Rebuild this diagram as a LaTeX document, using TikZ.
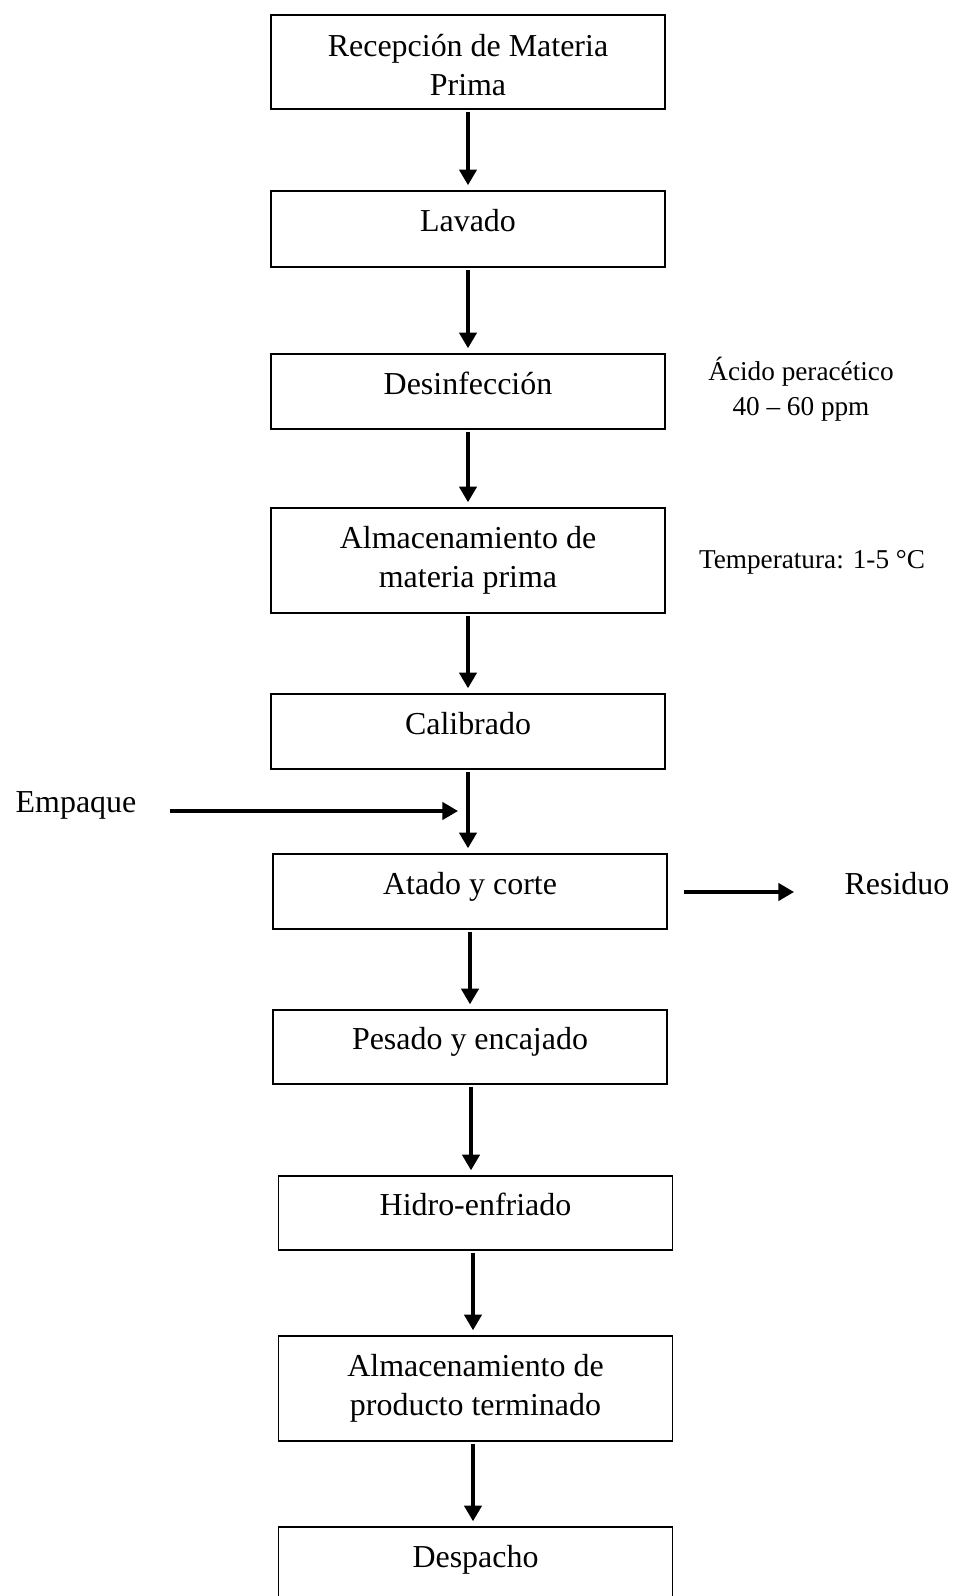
\documentclass[tikz,border=0pt]{standalone}
\usepackage{fontspec}
\setmainfont{Liberation Serif}
\usetikzlibrary{arrows.meta}
\begin{document}
\begin{tikzpicture}[x=0.36pt,y=-0.36pt,
  box/.style={draw,line width=0.55pt,minimum width=141.8pt,inner sep=2pt,align=center,
    font=\fontsize{11.5pt}{13.9pt}\selectfont},
  one/.style={text height=8pt,text depth=6pt},
  side/.style={align=center,inner sep=0pt,font=\fontsize{9.8pt}{12.6pt}\selectfont},
  lbl/.style={inner sep=0pt,font=\fontsize{11.5pt}{13.9pt}\selectfont},
  arr/.style={line width=1.2pt,-{Triangle[length=5.6pt,width=6.2pt]}},
  vv/.style={arr,shorten <=0.8pt,shorten >=1.8pt},
]
\useasboundingbox (0,0) rectangle (954,1596);
\clip (0,0) rectangle (954,1596);
\node[box,minimum height=33.8pt] (b1) at (468,62) {\rule{0pt}{10.2pt}Recepción de Materia\\Prima};
\node[box,one,minimum height=27.4pt] (b2) at (468,229) {Lavado};
\node[box,one,minimum height=27pt] (b3) at (468,391.5) {Desinfección};
\node[box,minimum height=37.8pt] (b4) at (468,560.5) {Almacenamiento de\\materia prima};
\node[box,one,minimum height=27pt] (b5) at (468,731.5) {Calibrado};
\node[box,one,minimum height=27pt] (b6) at (470,891.5) {Atado y corte};
\node[box,one,minimum height=26.6pt] (b7) at (470,1047) {Pesado y encajado};
\node[box,one,minimum height=26.6pt] (b8) at (475.5,1213) {Hidro-enfriado};
\node[box,minimum height=37.8pt] (b9) at (475.5,1388.5) {Almacenamiento de\\producto terminado};
\node[box,one,minimum height=27pt] (b10) at (475.5,1564.5) {Despacho};
\node[side] (acido) at (801,389.5) {Ácido peracético\\40 – 60 ppm};
\node[side] (temp) at (812,562) {Temperatura: 1-5 °C};
\node[lbl] (emp) at (76,805) {Empaque};
\node[lbl] (res) at (897,884) {Residuo};
\coordinate (e1) at (170,811);
\coordinate (e2) at (458,811);
\coordinate (r1) at (684,892);
\coordinate (r2) at (794,892);
\draw[vv] (b1.south) -- (b2.north);
\draw[vv] (b2.south) -- (b3.north);
\draw[vv] (b3.south) -- (b4.north);
\draw[vv] (b4.south) -- (b5.north);
\draw[vv] (b5.south) -- (b5.south |- b6.north);
\draw[vv] (b6.south) -- (b7.north);
\draw[vv] ([xshift=0.36pt]b7.south) -- ([xshift=0.36pt]b7.south |- b8.north);
\draw[vv] ([xshift=-0.9pt]b8.south) -- ([xshift=-0.9pt]b9.north);
\draw[vv] ([xshift=-0.9pt]b9.south) -- ([xshift=-0.9pt]b10.north);
\draw[arr] (e1) -- (e2);
\draw[arr] (r1) -- (r2);
\end{tikzpicture}
\end{document}
